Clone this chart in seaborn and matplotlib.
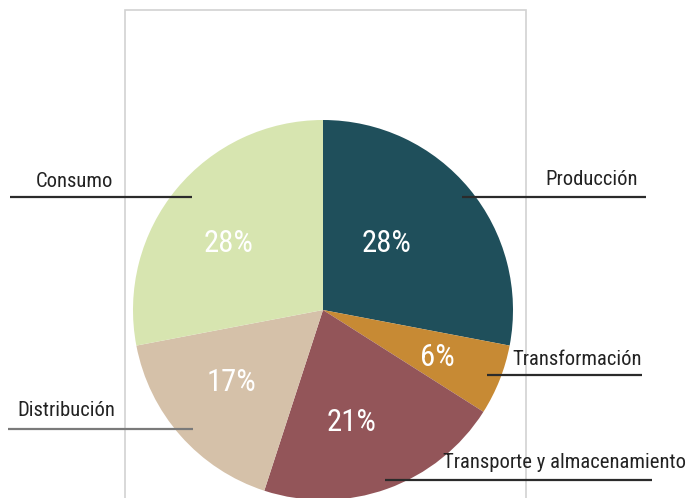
# Gráfico de tarta: reparto por etapas de la cadena
import matplotlib
matplotlib.use("Agg")
import matplotlib.pyplot as plt
from matplotlib import font_manager
from matplotlib.patches import Rectangle
import seaborn as sns

# DATOS
etapas = ["Producción", "Transformación", "Transporte y almacenamiento",
          "Distribución", "Consumo"]
porcentajes = [28, 6, 21, 17, 28]
colores = ["#1f4f5b", "#c78a34", "#935559", "#d5c1a9", "#d7e5b0"]

# Estilo
sns.set_style("white")

# buscamos una fuente estrecha; si no hay, Liberation Sans
fuente = dict(family=["Liberation Sans", "DejaVu Sans"])
for f in font_manager.fontManager.ttflist:
    if f.name in ("Liberation Sans Narrow", "Roboto Condensed", "Open Sans Condensed"):
        fuente = dict(family=[f.name, "DejaVu Sans"])
        break
    if f.name in ("Noto Sans", "Open Sans", "Roboto") and f.stretch in ("condensed", "semi-condensed"):
        fuente = dict(family=[f.name, "DejaVu Sans"], stretch=f.stretch)

W, H = 689, 498


def py(y):
    # pasa de coordenada de píxel (desde arriba) a coordenada de datos
    return H - y


fig = plt.figure(figsize=(W / 100, H / 100), dpi=100)
ax = fig.add_axes([0, 0, 1, 1])

# marco gris claro
ax.add_patch(Rectangle((125, -20), 401, py(10) + 20, fill=False,
                       edgecolor="#d2d2d2", linewidth=1.2, zorder=0))

wedges, textos, pcts = ax.pie(
    porcentajes, colors=colores, startangle=90, counterclock=False,
    center=(323, py(310)), radius=190,
    autopct="%d%%", pctdistance=0.6,
    wedgeprops=dict(linewidth=0),
    textprops=dict(color="white", fontsize=20, **fuente))

# ajuste fino de las etiquetas de porcentaje
pos_pct = [(387, 243), (437, 357), (352, 422), (231, 382), (229, 243)]
for t, (x, y) in zip(pcts, pos_pct):
    t.set_position((x, py(y)))
    t.set_ha("center")
    t.set_va("center")

# líneas y rótulos de cada etapa
rotulos = {
    "Consumo": dict(linea=(10, 192, 197), texto=(113, 187), color="#2b2b2b"),
    "Producción": dict(linea=(462, 646, 197), texto=(638, 185), color="#2b2b2b"),
    "Transformación": dict(linea=(487, 642, 375), texto=(642, 365), color="#2b2b2b"),
    "Transporte y almacenamiento": dict(linea=(385, 652, 480), texto=(686, 468), color="#2b2b2b"),
    "Distribución": dict(linea=(8, 193, 429), texto=(115, 416), color="#7a7a7a"),
}
etiquetas = []
for etapa in etapas:
    r = rotulos[etapa]
    x0, x1, y = r["linea"]
    ax.plot([x0, x1], [py(y), py(y)], color=r["color"], linewidth=1.6,
            solid_capstyle="butt", zorder=5)
    tx, ty = r["texto"]
    etiquetas.append(ax.text(tx, py(ty), etapa, ha="right", va="baseline",
                             fontsize=16, color="#222222", zorder=6, **fuente))

ax.set_xlim(0, W)
ax.set_ylim(0, H)
ax.set_aspect("equal")
ax.axis("off")

# ajustamos el tamaño para que los textos ocupen el mismo ancho que en el original
fig.canvas.draw()
rend = fig.canvas.get_renderer()
ancho_largo = etiquetas[2].get_window_extent(rend).width
escala = 243 / ancho_largo
for t in etiquetas:
    t.set_fontsize(16 * escala)
ancho_pct = pcts[0].get_window_extent(rend).width
for t in pcts:
    t.set_fontsize(20 * 50 / ancho_pct)

fig.savefig("out.png", dpi=100, facecolor="white")
